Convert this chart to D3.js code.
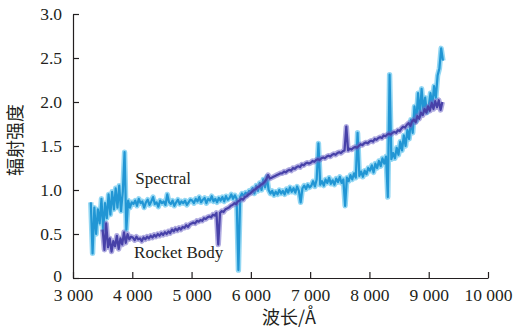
<!DOCTYPE html>
<html>
<head>
<meta charset="utf-8">
<script src="https://cdn.jsdelivr.net/npm/d3@7"></script>
<style>
  html, body { margin: 0; padding: 0; background: #fff; }
  svg { display: block; }
  text { font-family: "Liberation Serif", serif; fill: #231f20; }
  text.cjk { font-family: "Noto Sans CJK SC", serif; }
</style>
</head>
<body>
<svg id="chart" width="514" height="328"></svg>
<script>
// ---------- data ----------
const xTicks = [3000, 4000, 5000, 6000, 7000, 8000, 9000, 10000];
const yTicks = [0, 0.5, 1.0, 1.5, 2.0, 2.5, 3.0];
const xTitle = "波长/Å";
const yTitle = "辐射强度";
const seriesNames = ["Spectral", "Rocket Body"];

// Spectral: sampled every 30 Å starting at 3300 Å
const spectralStart = 3300, spectralStep = 30;
const spectralValues = [
  0.86,0.28,0.80,0.50,0.78,0.62,0.90,0.55,0.85,0.68,0.95,0.72,0.98,0.78,1.02,0.80,1.05,0.76,0.98,1.43,0.55,0.88,0.80,0.86,
  0.84,0.88,0.82,0.90,0.85,0.87,0.80,0.86,0.89,0.83,0.87,0.92,0.84,0.86,0.81,0.88,0.85,0.87,0.83,0.95,0.86,0.84,0.88,0.82,0.86,0.89,0.84,0.87,0.85,0.88,0.83,0.86,0.89,
  0.88,0.85,0.90,0.87,0.92,0.86,0.89,0.91,0.85,0.90,0.88,0.93,0.87,0.90,0.86,0.91,0.88,0.92,0.87,0.93,0.89,0.91,0.95,0.90,0.94,0.90,0.09,0.92,0.96,0.93,0.97,0.95,0.99,
  0.98,1.02,0.96,1.05,0.99,1.08,1.00,1.12,1.03,1.15,1.00,0.96,0.99,0.94,0.98,0.95,1.00,0.96,0.99,0.95,1.01,0.97,1.03,0.98,1.02,0.97,1.04,0.99,0.86,1.02,1.05,1.01,1.06,1.03,
  1.05,1.10,1.04,1.12,1.53,1.06,1.10,1.05,1.12,1.08,1.14,1.07,1.11,1.06,1.13,1.09,1.15,1.08,1.12,0.82,1.14,1.10,1.17,1.12,1.19,1.14,1.65,1.16,1.21,1.15,1.22,1.18,1.25,
  1.22,1.28,1.20,1.30,1.25,1.33,1.27,1.36,1.30,1.38,0.92,2.31,1.35,1.42,1.36,1.48,1.40,1.55,1.45,1.62,1.50,1.68,1.58,1.80,1.65,1.95,1.78,2.10,1.85,2.15,1.90,2.05,1.88,
  1.95,2.10,1.96,2.18,2.05,2.30,2.38,2.61,2.47
];

// Rocket Body: sampled every 30 Å starting at 3500 Å
const rocketStart = 3500, rocketStep = 30;
const rocketValues = [
  0.55,0.32,0.62,0.35,0.45,0.30,0.42,0.36,0.48,0.33,0.45,0.38,0.52,0.40,0.50,0.44,0.47,
  0.46,0.43,0.47,0.44,0.45,0.42,0.46,0.44,0.47,0.45,0.48,0.46,0.49,0.47,0.50,0.48,0.51,0.49,0.52,0.50,0.53,0.51,0.55,0.53,0.56,0.54,0.57,0.55,0.58,0.57,0.60,0.58,0.61,
  0.62,0.63,0.62,0.65,0.64,0.66,0.65,0.68,0.67,0.69,0.70,0.69,0.72,0.71,0.74,0.38,0.74,0.76,0.75,0.78,0.79,0.80,0.82,0.83,0.85,0.84,0.87,0.88,0.90,0.89,0.92,0.93,0.95,0.96,
  0.98,1.00,1.01,1.03,1.04,1.06,1.07,1.09,1.12,1.17,1.13,1.14,1.15,1.16,1.17,1.18,1.19,1.19,1.21,1.20,1.22,1.23,1.22,1.25,1.24,1.26,1.27,1.26,1.29,1.28,1.30,1.31,1.30,
  1.31,1.33,1.32,1.34,1.35,1.34,1.36,1.37,1.36,1.38,1.39,1.38,1.40,1.41,1.40,1.42,1.43,1.42,1.44,1.45,1.72,1.45,1.47,1.46,1.48,1.49,1.48,1.50,1.52,1.51,1.53,1.54,1.53,
  1.55,1.56,1.55,1.58,1.57,1.59,1.60,1.59,1.62,1.61,1.63,1.64,1.63,1.65,1.66,1.65,1.68,1.67,1.70,1.72,1.71,1.74,1.76,1.73,1.78,1.80,1.77,1.84,1.81,1.88,1.85,1.92,1.88,
  1.95,1.90,1.99,1.92,2.01,1.94,2.02,1.91,2.00
];

// ---------- chart ----------
const svg = d3.select("#chart");
const m = { left: 73, right: 26, top: 14, bottom: 50 };
const W = 514, H = 328;

const x = d3.scaleLinear().domain([3000, 10000]).range([m.left, W - m.right]);
const y = d3.scaleLinear().domain([0, 3]).range([H - m.bottom, m.top]);

const spectral = spectralValues.map((v, i) => [spectralStart + i * spectralStep, v]);
const rocket = rocketValues.map((v, i) => [rocketStart + i * rocketStep, v]);

const line = d3.line().x(d => x(d[0])).y(d => y(d[1]));

function drawSeries(data, outer, inner) {
  svg.append("path").datum(data).attr("d", line)
    .attr("fill", "none").attr("stroke", outer).attr("stroke-width", 5.4)
    .attr("stroke-opacity", 0.55).attr("stroke-linejoin", "round");
  svg.append("path").datum(data).attr("d", line)
    .attr("fill", "none").attr("stroke", inner).attr("stroke-width", 2.2)
    .attr("stroke-linejoin", "round");
}
drawSeries(spectral, "#3bb6ea", "#2196d4");
drawSeries(rocket, "#6d66c6", "#4741a8");

// axes
const fmtX = d => d3.format(",")(d).replace(/,/g, " ");
const fmtY = d => d === 0 ? "0" : d.toFixed(1);

const gx = svg.append("g").attr("transform", `translate(0,${y(0)})`)
  .call(d3.axisBottom(x).tickValues(xTicks).tickFormat(fmtX).tickSizeInner(-6).tickSizeOuter(0).tickPadding(11));
const gy = svg.append("g").attr("transform", `translate(${x(3000)},0)`)
  .call(d3.axisLeft(y).tickValues(yTicks).tickFormat(fmtY).tickSizeInner(-6).tickSizeOuter(0).tickPadding(11));

[gx, gy].forEach(g => {
  g.attr("font-family", null);
  g.select(".domain").attr("stroke", "#231f20").attr("stroke-width", 1.2);
  g.selectAll(".tick line").attr("stroke", "#231f20").attr("stroke-width", 1.2);
  g.selectAll(".tick text").attr("fill", "#231f20")
    .style("font-family", '"Liberation Serif", serif').style("font-size", "17.5px");
});
// lift the "0" label slightly so it clears the x-axis labels
gy.selectAll(".tick text").filter(d => d === 0).attr("y", -2);

// titles
svg.append("text").attr("class", "cjk")
  .attr("x", 289).attr("y", H - 4)
  .attr("text-anchor", "middle").attr("font-size", 18)
  .text(xTitle);
svg.append("text").attr("class", "cjk")
  .attr("transform", `translate(22,${(y(0) + y(3)) / 2 - 6}) rotate(-90)`)
  .attr("text-anchor", "middle").attr("font-size", 18)
  .text(yTitle);

// series labels
svg.append("text").attr("x", x(4050)).attr("y", y(1.07))
  .style("font-size", "17px").text(seriesNames[0]);
svg.append("text").attr("x", x(4030)).attr("y", y(0.23))
  .style("font-size", "17px").text(seriesNames[1]);
</script>
</body>
</html>
